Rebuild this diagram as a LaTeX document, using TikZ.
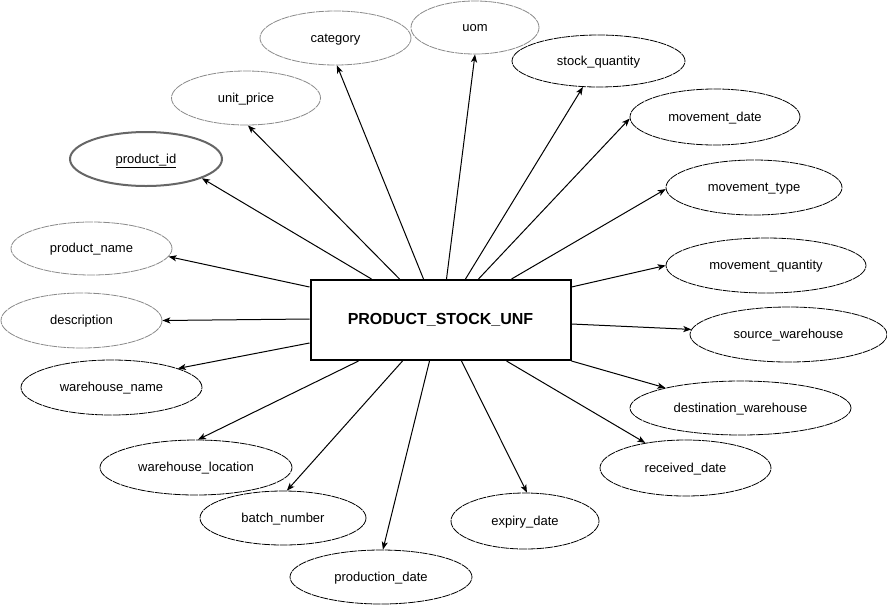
\documentclass[tikz,border=0pt]{standalone}
\usepackage{fontspec}
\setmainfont{Liberation Sans}
\usetikzlibrary{shapes.geometric,arrows.meta,calc}
\definecolor{soft}{HTML}{8A8A8A}
\definecolor{pkline}{HTML}{666666}
\begin{document}
\begin{tikzpicture}[x=0.75pt,y=-0.75pt,
  attr/.style={ellipse, draw=black, line width=0.6pt, dash pattern=on 6pt off 0.6pt, inner sep=0pt, text height=0.62em, text depth=0pt, font=\fontsize{9.75}{11}\selectfont},
  sz/.style 2 args={minimum width=#1*0.75pt, minimum height=#2*0.75pt},
  light/.style={draw=soft},
  pkey/.style={draw=pkline, solid, line width=1.5pt},
  entity/.style={draw=black, line width=1.5pt, inner sep=0pt, font=\fontsize{12}{14}\selectfont\bfseries},
  link/.style={line width=0.75pt, -{Stealth[length=6pt,width=4.6pt,inset=1.6pt]}}]
\useasboundingbox[fill=white] (0,0) rectangle (887,607);

\node[entity, sz={260}{80}] (e) at (440.5,320) {PRODUCT\_STOCK\_UNF};

\node[attr, pkey, sz={152}{54}] (pid) at (146,159) {\underline{product\_id}};
\node[attr, light, sz={149}{54}] (price) at (246,98) {unit\_price};
\node[attr, light, sz={151}{54}] (cat) at (335.5,38) {category};
\node[attr, light, sz={128}{53}] (uom) at (475,27.5) {uom};
\node[attr, sz={173}{52}] (stock) at (598.5,61) {stock\_quantity};
\node[attr, sz={170}{56}] (mdate) at (715,117) {movement\_date};
\node[attr, sz={176}{55}] (mtype) at (754,187.5) {movement\_type};
\node[attr, sz={200}{55}] (mqty) at (766,265.5) {movement\_quantity};
\node[attr, sz={197}{55}] (src) at (788.5,334.5) {source\_warehouse};
\node[attr, sz={221}{54}] (dst) at (740.5,408) {destination\_warehouse};
\node[attr, sz={171}{56}] (recv) at (685.5,468) {received\_date};
\node[attr, sz={148}{56}] (exp) at (525,521) {expiry\_date};
\node[attr, sz={182}{54}] (prod) at (381,577) {production\_date};
\node[attr, sz={166}{54}] (batch) at (283,518) {batch\_number};
\node[attr, sz={192}{55}] (wloc) at (196,467.5) {warehouse\_location};
\node[attr, sz={181}{55}] (wname) at (111.5,387.5) {warehouse\_name};
\node[attr, light, sz={161}{55}] (desc) at (81.5,320.5) {description};
\node[attr, light, sz={161}{53}] (pname) at (91.5,248.5) {product\_name};

\draw[link] ($(e.north west)+(62,0)$) -- (pid.-19.4);
\draw[link] ($(e.north west)+(90,0)$) -- (price.-86);
\draw[link] ($(e.north west)+(114,0)$) -- (cat.-87);
\draw[link] ($(e.north west)+(137,0)$) -- (uom.-90);
\draw[link] ($(e.north west)+(156,0)$) -- (stock.-121);
\draw[link] ($(e.north west)+(169,0)$) -- (mdate.181);
\draw[link] ($(e.north west)+(202,0)$) -- (mtype.181.6);
\draw[link] ($(e.north east)+(0,8)$) -- (mqty.180.8);
\draw[link] ($(e.north east)+(0,45)$) -- (src.177.4);
\draw[link] (e.south east) -- (dst.165);
\draw[link] ($(e.south west)+(197,0)$) -- (recv.148);
\draw[link] ($(e.south west)+(152,0)$) -- (exp.86);
\draw[link] ($(e.south west)+(120,0)$) -- (prod.86);
\draw[link] ($(e.south west)+(93,0)$) -- (batch.82);
\draw[link] ($(e.south west)+(49,0)$) -- (wloc.86);
\draw[link] ($(e.north west)+(0,64)$) -- (wname.16);
\draw[link] ($(e.north west)+(0,40)$) -- (desc.0);
\draw[link] ($(e.north west)+(0,8)$) -- (pname.-6.4);
\end{tikzpicture}
\end{document}
